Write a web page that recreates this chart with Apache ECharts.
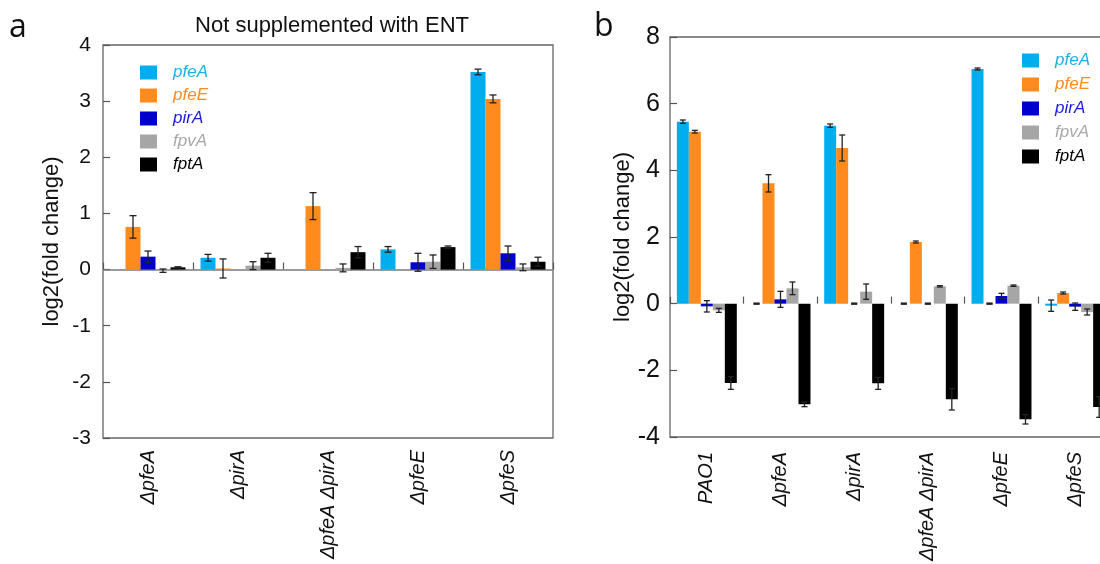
<!DOCTYPE html>
<html>
<head>
<meta charset="utf-8">
<script src="https://cdn.jsdelivr.net/npm/echarts@6/dist/echarts.min.js"></script>
<style>html,body{margin:0;padding:0;background:#fff}#c{width:1100px;height:564px}</style>
</head>
<body>
<div id="c"></div>
<script>
// ---------- data ----------
const categoriesA = ['ΔpfeA', 'ΔpirA', 'ΔpfeA ΔpirA', 'ΔpfeE', 'ΔpfeS'];
const categoriesB = ['PAO1', 'ΔpfeA', 'ΔpirA', 'ΔpfeA ΔpirA', 'ΔpfeE', 'ΔpfeS'];
const genes = ['pfeA', 'pfeE', 'pirA', 'fpvA', 'fptA'];

// Panel a: Not supplemented with ENT
const aPfeA = [null, 0.21, null, 0.36, 3.52];
const aPfeAErr = [null, 0.06, null, 0.05, 0.05];
const aPfeE = [0.76, 0.02, 1.13, null, 3.04];
const aPfeEErr = [0.20, 0.17, 0.24, null, 0.07];
const aPirA = [0.23, null, null, 0.13, 0.29];
const aPirAErr = [0.10, null, null, 0.16, 0.13];
const aFpvA = [-0.02, 0.07, 0.03, 0.14, 0.04];
const aFpvAErr = [0.03, 0.07, 0.07, 0.12, 0.06];
const aFptA = [0.04, 0.21, 0.31, 0.40, 0.14];
const aFptAErr = [0.01, 0.08, 0.10, 0.02, 0.08];

// Panel b
const bPfeA = [5.46, 0, 5.34, 0, 7.04, -0.06];
const bPfeAErr = [0.05, 0, 0.05, 0, 0.03, 0.17];
const bPfeE = [5.16, 3.61, 4.67, 1.85, 0, 0.32];
const bPfeEErr = [0.04, 0.26, 0.39, 0.03, 0, 0.03];
const bPirA = [-0.08, 0.13, 0, 0, 0.23, -0.09];
const bPirAErr = [0.17, 0.24, 0, 0, 0.08, 0.11];
const bFpvA = [-0.2, 0.46, 0.36, 0.52, 0.54, -0.25];
const bFpvAErr = [0.06, 0.19, 0.23, 0.02, 0.02, 0.09];
const bFptA = [-2.38, -3.02, -2.39, -2.87, -3.47, -3.10];
const bFptAErr = [0.19, 0.07, 0.18, 0.32, 0.14, 0.31];

const yRangeA = { min: -3, max: 4, interval: 1 };
const yRangeB = { min: -4, max: 8, interval: 2 };

// ---------- style ----------
const barColors = ['#00aeef', '#ff8a1e', '#0000cc', '#a6a6a6', '#000000'];
const legendTextColors = ['#21aee6', '#ff8a1e', '#1a1ae0', '#a8a8a8', '#000000'];
const FONT = "'Liberation Sans', Arial, sans-serif";
const gapA = 0.167, gapB = 0.186;

const valsA = [aPfeA, aPfeE, aPirA, aFpvA, aFptA];
const errsA = [aPfeAErr, aPfeEErr, aPirAErr, aFpvAErr, aFptAErr];
const valsB = [bPfeA, bPfeE, bPirA, bFpvA, bFptA];
const errsB = [bPfeAErr, bPfeEErr, bPirAErr, bFpvAErr, bFptAErr];

function barSeries(axis, gi, vals, gap) {
  const s = {
    name: genes[gi], type: 'bar', xAxisIndex: axis, yAxisIndex: axis,
    data: vals, barGap: '0%', barCategoryGap: (gap * 100).toFixed(1) + '%',
    itemStyle: { color: barColors[gi] }, silent: true, z: 2
  };
  if (axis === 0 && gi === 0) {
    s.markLine = { silent: true, symbol: 'none', label: { show: false },
      lineStyle: { color: '#7a7a7a', width: 1.5, type: 'solid' }, data: [{ yAxis: 0 }], z: 1 };
  }
  return s;
}

function errSeries(axis, gi, vals, errs, gap) {
  const data = [];
  vals.forEach((v, i) => { if (v !== null) data.push([i, v, errs[i]]); });
  return {
    name: 'err_' + axis + '_' + genes[gi], type: 'custom', xAxisIndex: axis, yAxisIndex: axis,
    silent: true, z: 6, data, encode: { x: 0, y: 1 },
    renderItem(params, api) {
      const i = api.value(0), v = api.value(1), e = api.value(2);
      const band = api.size([1, 0])[0];
      const bw = band * (1 - gap) / 5;
      const c = api.coord([i, v]);
      const x = c[0] + (gi - 2) * bw;
      const yt = api.coord([i, v + e])[1];
      const yb = api.coord([i, v - e])[1];
      const cap = axis === 0 ? 3.5 : 3;
      const st = { stroke: '#222', lineWidth: e === 0 ? 2 : 1.3 };
      return { type: 'group', children: [
        { type: 'line', shape: { x1: x, y1: yt, x2: x, y2: yb }, style: st },
        { type: 'line', shape: { x1: x - cap, y1: yt, x2: x + cap, y2: yt }, style: st },
        { type: 'line', shape: { x1: x - cap, y1: yb, x2: x + cap, y2: yb }, style: st }
      ] };
    }
  };
}

const series = [];
genes.forEach((g, gi) => series.push(barSeries(0, gi, valsA[gi], gapA)));
genes.forEach((g, gi) => series.push(barSeries(1, gi, valsB[gi], gapB)));
genes.forEach((g, gi) => series.push(errSeries(0, gi, valsA[gi], errsA[gi], gapA)));
genes.forEach((g, gi) => series.push(errSeries(1, gi, valsB[gi], errsB[gi], gapB)));

const legendData = genes.map((g, i) => ({ name: g, textStyle: { color: legendTextColors[i] } }));
function legend(left, top, gap) {
  return {
    orient: 'vertical', left, top, itemWidth: 17, itemHeight: 14, itemGap: gap,
    icon: 'rect', selectedMode: false, data: legendData,
    textStyle: { fontFamily: FONT, fontSize: 17, fontStyle: 'italic', lineHeight: 17, padding: [0, 0, 0, 11] }
  };
}

function xAxis(grid, cats, margin) {
  return {
    type: 'category', gridIndex: grid, data: cats,
    axisLine: { show: false },
    axisTick: { show: true, inside: true, length: 7, lineStyle: { color: '#555', width: 1.2 } },
    axisLabel: { rotate: 90, margin, fontFamily: FONT, fontSize: 20, fontStyle: 'italic', color: '#111' },
    splitLine: { show: false }
  };
}
function yAxis(grid, r, fs, nameGap, margin) {
  return {
    type: 'value', gridIndex: grid, min: r.min, max: r.max, interval: r.interval,
    name: 'log2(fold change)', nameLocation: 'middle', nameGap, nameRotate: 90,
    nameTextStyle: { fontFamily: FONT, fontSize: 22, color: '#111' },
    axisLine: { show: false },
    axisTick: { show: true, inside: true, length: 7, lineStyle: { color: '#555', width: 1.2 } },
    axisLabel: { margin, fontFamily: FONT, fontSize: fs, color: '#111' },
    splitLine: { show: false }
  };
}

const option = {
  animation: false,
  backgroundColor: '#fff',
  title: [{ text: 'Not supplemented with ENT', left: 327, textAlign: 'center', top: 10,
    textStyle: { fontFamily: FONT, fontSize: 22, fontWeight: 'normal', color: '#111' } }],
  graphic: [
    { type: 'text', left: 9, top: 12, style: { text: 'a', font: "32px 'Open Sans', sans-serif", fill: '#111' } },
    { type: 'text', left: 594, top: 11, style: { text: 'b', font: "32px 'Open Sans', sans-serif", fill: '#111' } }
  ],
  grid: [
    { left: 103, top: 45, width: 450, height: 393, outerBoundsMode: 'none', containLabel: false,
      show: true, borderColor: '#666', borderWidth: 1.3, backgroundColor: 'transparent' },
    { left: 670, top: 37, width: 442, height: 400, outerBoundsMode: 'none', containLabel: false,
      show: true, borderColor: '#666', borderWidth: 1.3, backgroundColor: 'transparent' }
  ],
  legend: [legend(135, 59, 6), legend(1017, 47, 7)],
  xAxis: [xAxis(0, categoriesA, 12), xAxis(1, categoriesB, 15)],
  yAxis: [yAxis(0, yRangeA, 21, 40, 12), yAxis(1, yRangeB, 25, 22, 10)],
  series
};

const chart = echarts.init(document.getElementById('c'), null, { renderer: 'canvas' });
chart.setOption(option);
</script>
</body>
</html>
